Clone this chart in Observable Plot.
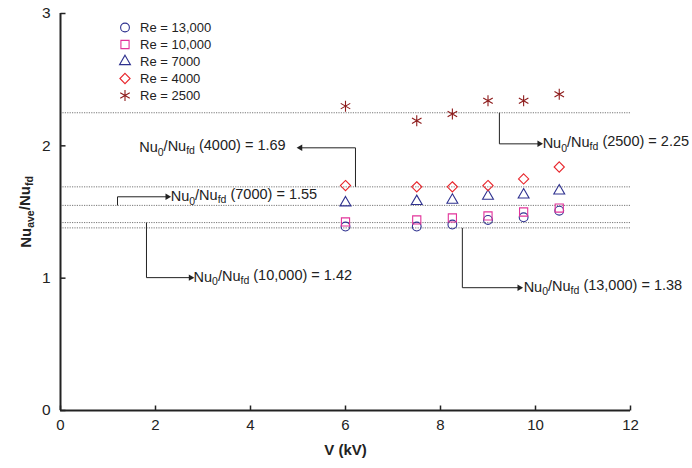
<!DOCTYPE html>
<html><head><meta charset="utf-8">
<script src="https://cdn.jsdelivr.net/npm/d3@7"></script>
<script src="https://cdn.jsdelivr.net/npm/@observablehq/plot@0.6"></script>
<style>
body{margin:0;background:#fff;}
#chart{position:relative;width:692px;height:468px;font-family:"Liberation Sans",Arial,sans-serif;}
#chart svg{overflow:visible}
#legend{position:absolute;left:114px;top:19px;font-size:13px;color:#222;line-height:17px;}
.row{height:17px;display:flex;align-items:center;}
.row svg{width:22px;height:17px;margin-right:4px;overflow:visible}
</style></head><body><div id="chart"><div id="legend"></div></div>
<script>
// ---- data ----
const V = [6, 7.5, 8.25, 9, 9.75, 10.5];
const seriesNames = ["Re = 13,000", "Re = 10,000", "Re = 7000", "Re = 4000", "Re = 2500"];
const re13000 = [1.39, 1.39, 1.405, 1.44, 1.46, 1.51];
const re10000 = [1.425, 1.44, 1.455, 1.47, 1.50, 1.53];
const re7000  = [1.57, 1.58, 1.59, 1.62, 1.63, 1.66];
const re4000  = [1.70, 1.69, 1.69, 1.70, 1.75, 1.84];
const re2500  = [2.30, 2.19, 2.24, 2.34, 2.34, 2.39];
const seriesValues = [re13000, re10000, re7000, re4000, re2500];
const seriesSymbols = ["circle", "square2", "triangle2", "diamond2", "asterisk"];
const seriesColors = ["#2e318f", "#e2339a", "#2e318f", "#e8262c", "#8e1c1c"];
const seriesR = [4.4, 5.2, 5.2, 4.6, 5.2];

const xTicks = [0, 2, 4, 6, 8, 10, 12];
const yTicks = [0, 1, 2, 3];

// Nu0/Nufd reference levels and their annotations
const annoLabels = ["Nu_{0}/Nu_{fd} (2500) = 2.25", "Nu_{0}/Nu_{fd} (4000) = 1.69", "Nu_{0}/Nu_{fd} (7000) = 1.55", "Nu_{0}/Nu_{fd} (10,000) = 1.42", "Nu_{0}/Nu_{fd} (13,000) = 1.38"];
const annoRef   = [2.25, 1.69, 1.55, 1.42, 1.38];
const annoLeadX = [9.24, 6.21, 1.20, 1.81, 8.46];
const annoElbowY = [2.015, 1.985, 1.615, 1.004, 0.928];
const annoTipX  = [10.08, 5.05, 2.25, 2.74, 9.66];
const annoTextX = [10.15, 4.74, 2.32, 2.80, 9.75];
const annoAnchor = ["start", "end", "start", "start", "start"];

// ---- build tables ----
const annos = annoLabels.map((label, i) => ({
  label, ref: annoRef[i], lx: annoLeadX[i], ey: annoElbowY[i], tx: annoTipX[i],
  textX: annoTextX[i], anchor: annoAnchor[i], dir: annoTipX[i] > annoLeadX[i] ? 90 : -90
}));

const tickUp = {draw(ctx) { ctx.moveTo(0, 0); ctx.lineTo(0, -5); }};
const tickRight = {draw(ctx) { ctx.moveTo(0, 0); ctx.lineTo(5, 0); }};

const dotMarks = seriesNames.map((name, s) =>
  Plot.dot(V.map((v, i) => ({v, y: seriesValues[s][i]})), {
    x: "v", y: "y", symbol: () => seriesSymbols[s], stroke: seriesColors[s],
    fill: "none", r: seriesR[s], strokeWidth: 1.1
  })
);

const plot = Plot.plot({
  width: 692, height: 468,
  marginLeft: 60, marginRight: 62, marginTop: 13, marginBottom: 58,
  style: {fontFamily: '"Liberation Sans", Arial, sans-serif', color: "#222", background: "#fff", overflow: "visible"},
  x: {domain: [0, 12]},
  y: {domain: [0, 3]},
  symbol: {type: "identity"},
  marks: [
    Plot.ruleY(annoRef, {stroke: "#777", strokeDasharray: "1.2,1.2", strokeWidth: 1}),
    Plot.link(annos, {x1: "lx", y1: "ref", x2: "lx", y2: "ey", stroke: "#222", strokeWidth: 1}),
    Plot.link(annos, {x1: "lx", y1: "ey", x2: "tx", y2: "ey", stroke: "#222", strokeWidth: 1}),
    Plot.dot(annos, {x: "tx", y: "ey", symbol: "triangle", r: 2.4, fill: "#222", rotate: "dir"}),
    Plot.text(annos.filter(d => d.anchor === "start"), {x: "textX", y: "ey", text: "label", textAnchor: "start", fontSize: 14.5, fill: "#222"}),
    Plot.text(annos.filter(d => d.anchor === "end"), {x: "textX", y: "ey", text: "label", textAnchor: "end", fontSize: 14.5, fill: "#222"}),
    ...dotMarks,
    Plot.axisX({ticks: xTicks, tickSize: 0, tickPadding: 9, fontSize: 15, tickFormat: d3.format("d"), label: "V (kV)", labelAnchor: "center", labelOffset: 44, labelArrow: false}),
    Plot.axisY({ticks: yTicks, tickSize: 0, tickPadding: 10, fontSize: 15.5, tickFormat: d3.format("d"), label: "Nu_{ave}/Nu_{fd}", labelAnchor: "center", labelOffset: 40, labelArrow: false}),
    Plot.dot(xTicks, {x: d => d, y: 0, symbol: tickUp, stroke: "#222", fill: "none", strokeWidth: 1.5}),
    Plot.dot(yTicks, {x: 0, y: d => d, symbol: tickRight, stroke: "#222", fill: "none", strokeWidth: 1.5}),
    Plot.ruleX([0], {stroke: "#222", strokeWidth: 2}),
    Plot.ruleY([0], {stroke: "#222", strokeWidth: 2})
  ]
});
document.getElementById("chart").appendChild(plot);

// subscripts
function subscriptify(el, str, subSize) {
  el.textContent = "";
  const parts = str.split(/_\{([^}]*)\}/);
  const ns = "http://www.w3.org/2000/svg";
  let shifted = false;
  parts.forEach((p, i) => {
    if (!p) return;
    const t = document.createElementNS(ns, "tspan");
    t.textContent = p;
    if (i % 2 === 1) {
      t.setAttribute("dy", "0.3em");
      t.setAttribute("font-size", subSize);
      shifted = true;
    } else if (shifted) {
      t.setAttribute("dy", "-0.3em");
      shifted = false;
    }
    el.appendChild(t);
  });
}
const svg = d3.select(plot);
svg.selectAll('g[aria-label="x-axis label"] text').attr("font-weight", "bold").attr("font-size", 15);
svg.selectAll('g[aria-label="y-axis label"] text').attr("font-weight", "bold").attr("font-size", 15);
svg.selectAll("text").filter(function() { return /_\{/.test(this.textContent); })
  .each(function() { subscriptify(this, this.textContent, "10.5px"); });

// legend
const legend = d3.select("#legend");
const symMap = {circle: d3.symbolCircle, square2: d3.symbolSquare2, triangle2: d3.symbolTriangle2, diamond2: d3.symbolDiamond2, asterisk: d3.symbolAsterisk};
seriesNames.forEach((name, s) => {
  const row = legend.append("div").attr("class", "row");
  const sv = row.append("svg");
  sv.append("path")
    .attr("transform", "translate(11,8.5)")
    .attr("d", d3.symbol(symMap[seriesSymbols[s]], Math.PI * seriesR[s] ** 2)())
    .attr("fill", "none").attr("stroke", seriesColors[s]).attr("stroke-width", 1.1);
  row.append("span").text(name);
});
</script></body></html>
